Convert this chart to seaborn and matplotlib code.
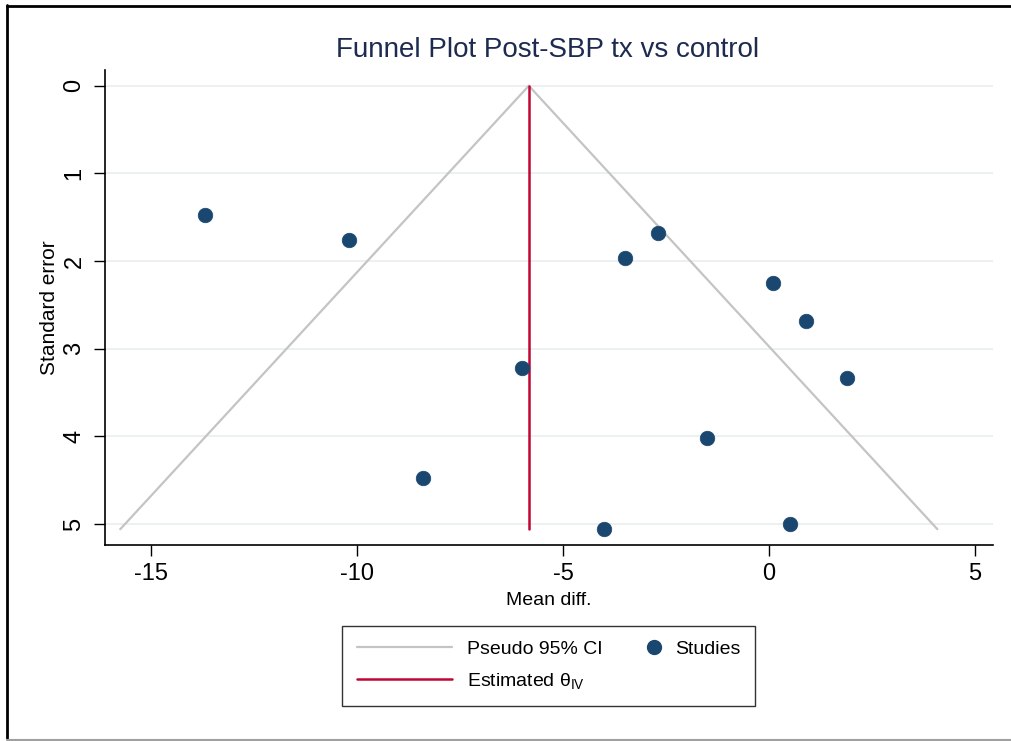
import matplotlib
matplotlib.use("Agg")
import matplotlib.pyplot as plt
import seaborn as sns
import pandas as pd
from matplotlib.lines import Line2D
from matplotlib.legend_handler import HandlerBase

# ---- data ----
mean_diff = [-13.7, -10.2, -2.7, -3.5, 0.1, 0.9, 1.9, -6.0, -1.5, -8.4, -4.0, 0.5]
std_err   = [1.48, 1.76, 1.68, 1.97, 2.25, 2.68, 3.34, 3.22, 4.02, 4.47, 5.06, 5.00]
theta_iv = -5.83
ci_left_x  = [-5.83, -15.75]
ci_right_x = [-5.83, 4.09]
ci_se      = [0.0, 5.06]
est_se     = [0.0, 5.06]
x_ticks = [-15, -10, -5, 0, 5]
y_ticks = [0, 1, 2, 3, 4, 5]

title = "Funnel Plot Post-SBP tx vs control"
xlabel = "Mean diff."
ylabel = "Standard error"

# ---- style ----
sns.set_theme(style="white")
plt.rcParams["font.family"] = ["Liberation Sans", "DejaVu Sans"]
plt.rcParams["mathtext.fontset"] = "custom"
plt.rcParams["mathtext.rm"] = "Liberation Sans"
plt.rcParams["mathtext.it"] = "Liberation Sans:italic"
plt.rcParams["text.color"] = "black"

NAVY = "#1a476f"
RED = "#c10534"
GRAY = "#c4c4c4"
GRID = "#e9efef"

fig = plt.figure(figsize=(10.12, 7.41), dpi=100)
fig.patch.set_facecolor("white")
ax = fig.add_axes([105 / 1012, 1 - 545 / 741, (993 - 105) / 1012, (545 - 70) / 741])

df = pd.DataFrame({"Mean diff.": mean_diff, "Standard error": std_err})
ci_l = pd.DataFrame({"x": ci_left_x, "se": ci_se})
ci_r = pd.DataFrame({"x": ci_right_x, "se": ci_se})
est = pd.DataFrame({"x": [theta_iv, theta_iv], "se": est_se})

for yt in y_ticks:
    ax.axhline(yt, color=GRID, lw=1.3, zorder=0)

sns.lineplot(data=ci_l, x="x", y="se", ax=ax, color=GRAY, lw=1.6, sort=False, estimator=None, zorder=2)
sns.lineplot(data=ci_r, x="x", y="se", ax=ax, color=GRAY, lw=1.6, sort=False, estimator=None, zorder=2)
sns.lineplot(data=est, x="x", y="se", ax=ax, color=RED, lw=1.8, sort=False, estimator=None, zorder=3)
sns.scatterplot(data=df, x="Mean diff.", y="Standard error", ax=ax, color=NAVY,
                s=110, edgecolor=NAVY, linewidth=0.5, zorder=4)

ax.set_xlim(-16.12, 5.44)
ax.set_ylim(5.24, -0.18)
ax.set_xticks(x_ticks)
ax.set_yticks(y_ticks)
ax.set_xticklabels([str(t) for t in x_ticks], fontsize=17)
ax.set_yticklabels([str(t) for t in y_ticks], fontsize=17, rotation=90, va="center")
ax.tick_params(axis="both", direction="out", length=8, width=1.0, color="black",
               bottom=True, left=True, labelcolor="black")
ax.tick_params(axis="x", pad=5)
ax.tick_params(axis="y", pad=6)
for side in ["top", "right"]:
    ax.spines[side].set_visible(False)
for side in ["left", "bottom"]:
    ax.spines[side].set_color("black")
    ax.spines[side].set_linewidth(1.2)

ax.set_xlabel(xlabel, fontsize=14, color="black")
ax.set_ylabel(ylabel, fontsize=15, color="black")
ax.xaxis.set_label_coords(0.5, -0.116)
ax.yaxis.set_label_coords(-0.063, 0.5)
ax.yaxis.label.set_va("center")
ax.xaxis.label.set_va("center")

fig.text(548 / 1012, 1 - 50 / 741, title, ha="center", va="center",
         fontsize=20, color="#1c2b4f")


class RightMarkerHandler(HandlerBase):
    """Place the legend marker near the right end of the handle box."""
    def create_artists(self, legend, orig_handle, xdescent, ydescent, width, height,
                       fontsize, trans):
        m = Line2D([width - xdescent - 4], [height / 2 - ydescent], marker="o", ls="none",
                   color=orig_handle.get_color(), markersize=orig_handle.get_markersize(),
                   transform=trans)
        return [m]


studies_handle = Line2D([], [], color=NAVY, marker="o", ls="none", markersize=10)
handles = [
    Line2D([], [], color=GRAY, lw=1.6),
    Line2D([], [], color=RED, lw=1.8),
    studies_handle,
]
labels = ["Pseudo 95% CI", r"Estimated θ$_{\mathrm{IV}}$", "Studies"]
leg = fig.legend(handles, labels, loc="center", bbox_to_anchor=(548.5 / 1012, 1 - 665.5 / 741),
                 ncol=2, fontsize=14, frameon=True, fancybox=False, handlelength=4.9,
                 columnspacing=-2.0, handletextpad=0.8, borderpad=0.75, labelspacing=0.68,
                 handler_map={studies_handle: RightMarkerHandler()})
leg.get_frame().set_edgecolor("black")
leg.get_frame().set_linewidth(1.0)
for t in leg.get_texts():
    t.set_color("black")

# outer border of the image
fig.add_artist(Line2D([7.5 / 1012, 7.5 / 1012], [1 - 738 / 741, 1 - 5 / 741],
                      transform=fig.transFigure, color="black", lw=2))
fig.add_artist(Line2D([7 / 1012, 1.0], [1 - 6 / 741, 1 - 6 / 741],
                      transform=fig.transFigure, color="black", lw=2))
fig.add_artist(Line2D([7 / 1012, 1.0], [1 - 739.5 / 741, 1 - 739.5 / 741],
                      transform=fig.transFigure, color="#a0a0a0", lw=1.5))

fig.savefig("out.png", dpi=100)
